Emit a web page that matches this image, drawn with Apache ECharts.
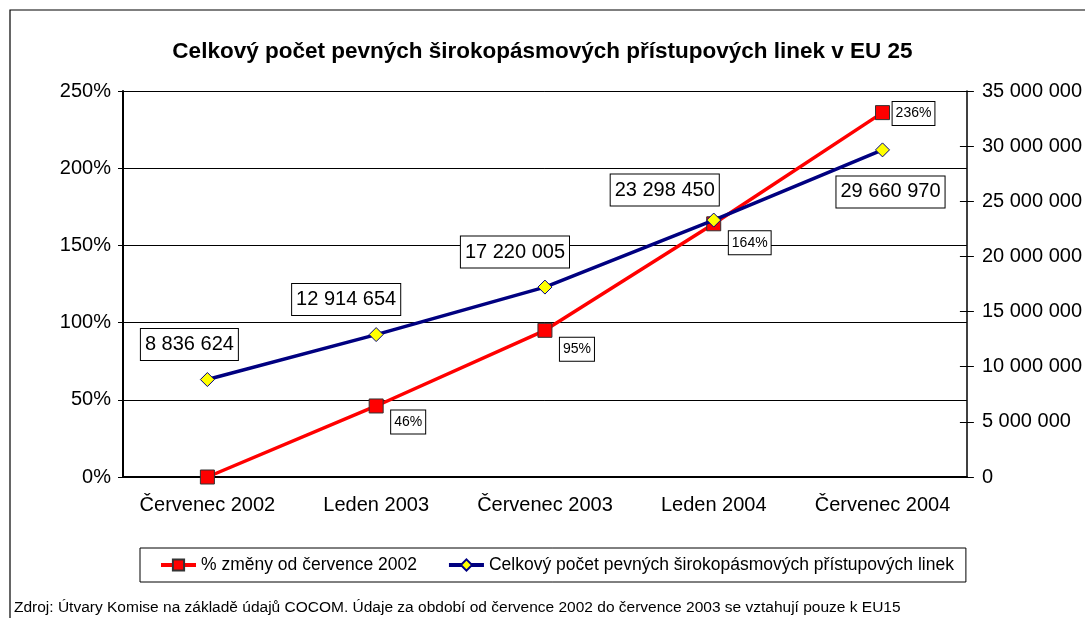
<!DOCTYPE html>
<html>
<head>
<meta charset="utf-8">
<title>Celkový počet pevných širokopásmových přístupových linek v EU 25</title>
<script src="https://cdn.jsdelivr.net/npm/echarts@6/dist/echarts.min.js"></script>
<style>
  html, body { margin: 0; padding: 0; background: #fff; }
  #chart { width: 1085px; height: 618px; }
</style>
</head>
<body>
<div id="chart"></div>
<script>
// data
let categories = ['Červenec 2002', 'Leden 2003', 'Červenec 2003', 'Leden 2004', 'Červenec 2004'];
let changePct = [0, 46, 95, 164, 236];              // % změny od července 2002
let lineCount = [8836624, 12914654, 17220005, 23298450, 29660970]; // počet linek
let pctTicks = [0, 50, 100, 150, 200, 250];
let countTicks = [0, 5000000, 10000000, 15000000, 20000000, 25000000, 30000000, 35000000];

let font = 'Liberation Sans, Arial, sans-serif';

function spaced(v) {
    return String(v).replace(/\B(?=(\d{3})+(?!\d))/g, ' ');
}

// posun popisků od bodu (jako v originále)
let pctLabelOffset = [[0, 0], [32, 16], [32, 19], [36, 19], [31, 1]];
let countLabelOffset = [[-18, -35], [-30, -35], [-30, -35], [-49, -30], [8, 42]];

let pctData = changePct.map(function (v, i) {
    return {
        value: v,
        label: { show: v !== 0, offset: pctLabelOffset[i] }
    };
});
let countData = lineCount.map(function (v, i) {
    return {
        value: v,
        label: { offset: countLabelOffset[i] }
    };
});

let myChart = echarts.init(document.getElementById('chart'));

let option = {
    animation: false,
    textStyle: { fontFamily: font, color: '#000' },
    title: {
        text: 'Celkový počet pevných širokopásmových přístupových linek v EU 25',
        left: 'center',
        top: 35,
        textStyle: { fontSize: 22.5, fontWeight: 'bold', color: '#000', fontFamily: font }
    },
    graphic: [
        {
            type: 'rect',
            shape: { x: 10, y: 10, width: 1200, height: 800 },
            style: { fill: 'none', stroke: '#000', lineWidth: 1.2 },
            silent: true
        },
        {
            type: 'text',
            left: 14,
            top: 600,
            style: {
                text: 'Zdroj: Útvary Komise na základě údajů COCOM. Údaje za období od července 2002 do července 2003 se vztahují pouze k EU15',
                font: '15.5px ' + font,
                fill: '#000'
            },
            silent: true
        }
    ],
    grid: { left: 123, right: 115, top: 91, bottom: 141 },
    legend: {
        left: 140,
        top: 548,
        padding: [8, 12, 8, 19],
        borderColor: '#000',
        borderWidth: 1,
        itemWidth: 35,
        itemHeight: 14,
        itemGap: 30,
        lineStyle: { width: 4 },
        textStyle: { fontSize: 17.5, color: '#000', fontFamily: font },
        data: ['% změny od července 2002', 'Celkový počet pevných širokopásmových přístupových linek']
    },
    xAxis: {
        type: 'category',
        data: categories,
        boundaryGap: true,
        axisLine: { lineStyle: { color: '#000', width: 2 } },
        axisTick: { inside: true, length: 5, lineStyle: { color: '#000' } },
        axisLabel: { interval: 0, fontSize: 20, color: '#000', margin: 18, fontFamily: font }
    },
    yAxis: [
        {
            type: 'value',
            min: pctTicks[0],
            max: pctTicks[pctTicks.length - 1],
            interval: pctTicks[1] - pctTicks[0],
            axisLine: { show: true, lineStyle: { color: '#000', width: 2 } },
            axisTick: { show: true, length: 5, lineStyle: { color: '#000' } },
            axisLabel: { formatter: '{value}%', fontSize: 20, color: '#000', margin: 12, fontFamily: font },
            splitLine: { lineStyle: { color: '#000', width: 1 } }
        },
        {
            type: 'value',
            position: 'right',
            min: countTicks[0],
            max: countTicks[countTicks.length - 1],
            interval: countTicks[1] - countTicks[0],
            axisLine: { show: true, lineStyle: { color: '#000', width: 1.5 } },
            axisTick: { show: true, length: 7, lineStyle: { color: '#000' } },
            axisLabel: { formatter: spaced, fontSize: 20, color: '#000', margin: 15, fontFamily: font },
            splitLine: { show: false }
        },
        {
            // vnitřní polovina křížových značek pravé osy
            type: 'value',
            position: 'right',
            min: countTicks[0],
            max: countTicks[countTicks.length - 1],
            interval: countTicks[1] - countTicks[0],
            axisLine: { show: false },
            axisTick: { show: true, inside: true, length: 7, lineStyle: { color: '#000' } },
            axisLabel: { show: false },
            splitLine: { show: false }
        }
    ],
    series: [
        {
            name: '% změny od července 2002',
            type: 'line',
            yAxisIndex: 0,
            data: pctData,
            symbol: 'rect',
            symbolSize: 14,
            lineStyle: { color: '#ff0000', width: 3.5 },
            itemStyle: { color: '#ff0000', borderColor: '#333', borderWidth: 1 },
            label: {
                show: true,
                position: 'inside',
                formatter: '{c}%',
                fontSize: 14,
                color: '#000',
                fontFamily: font,
                backgroundColor: '#fff',
                borderColor: '#000',
                borderWidth: 1,
                padding: [5, 3, 4, 3]
            },
            z: 2
        },
        {
            name: 'Celkový počet pevných širokopásmových přístupových linek',
            type: 'line',
            yAxisIndex: 1,
            data: countData,
            symbol: 'diamond',
            symbolSize: 14,
            lineStyle: { color: '#000080', width: 3.5 },
            itemStyle: { color: '#ffff00', borderColor: '#000080', borderWidth: 1 },
            label: {
                show: true,
                position: 'inside',
                formatter: function (p) { return spaced(p.value); },
                fontSize: 20,
                color: '#000',
                fontFamily: font,
                backgroundColor: '#fff',
                borderColor: '#000',
                borderWidth: 1,
                padding: [6, 4, 5, 4]
            },
            z: 3
        }
    ]
};

myChart.setOption(option);
</script>
</body>
</html>
